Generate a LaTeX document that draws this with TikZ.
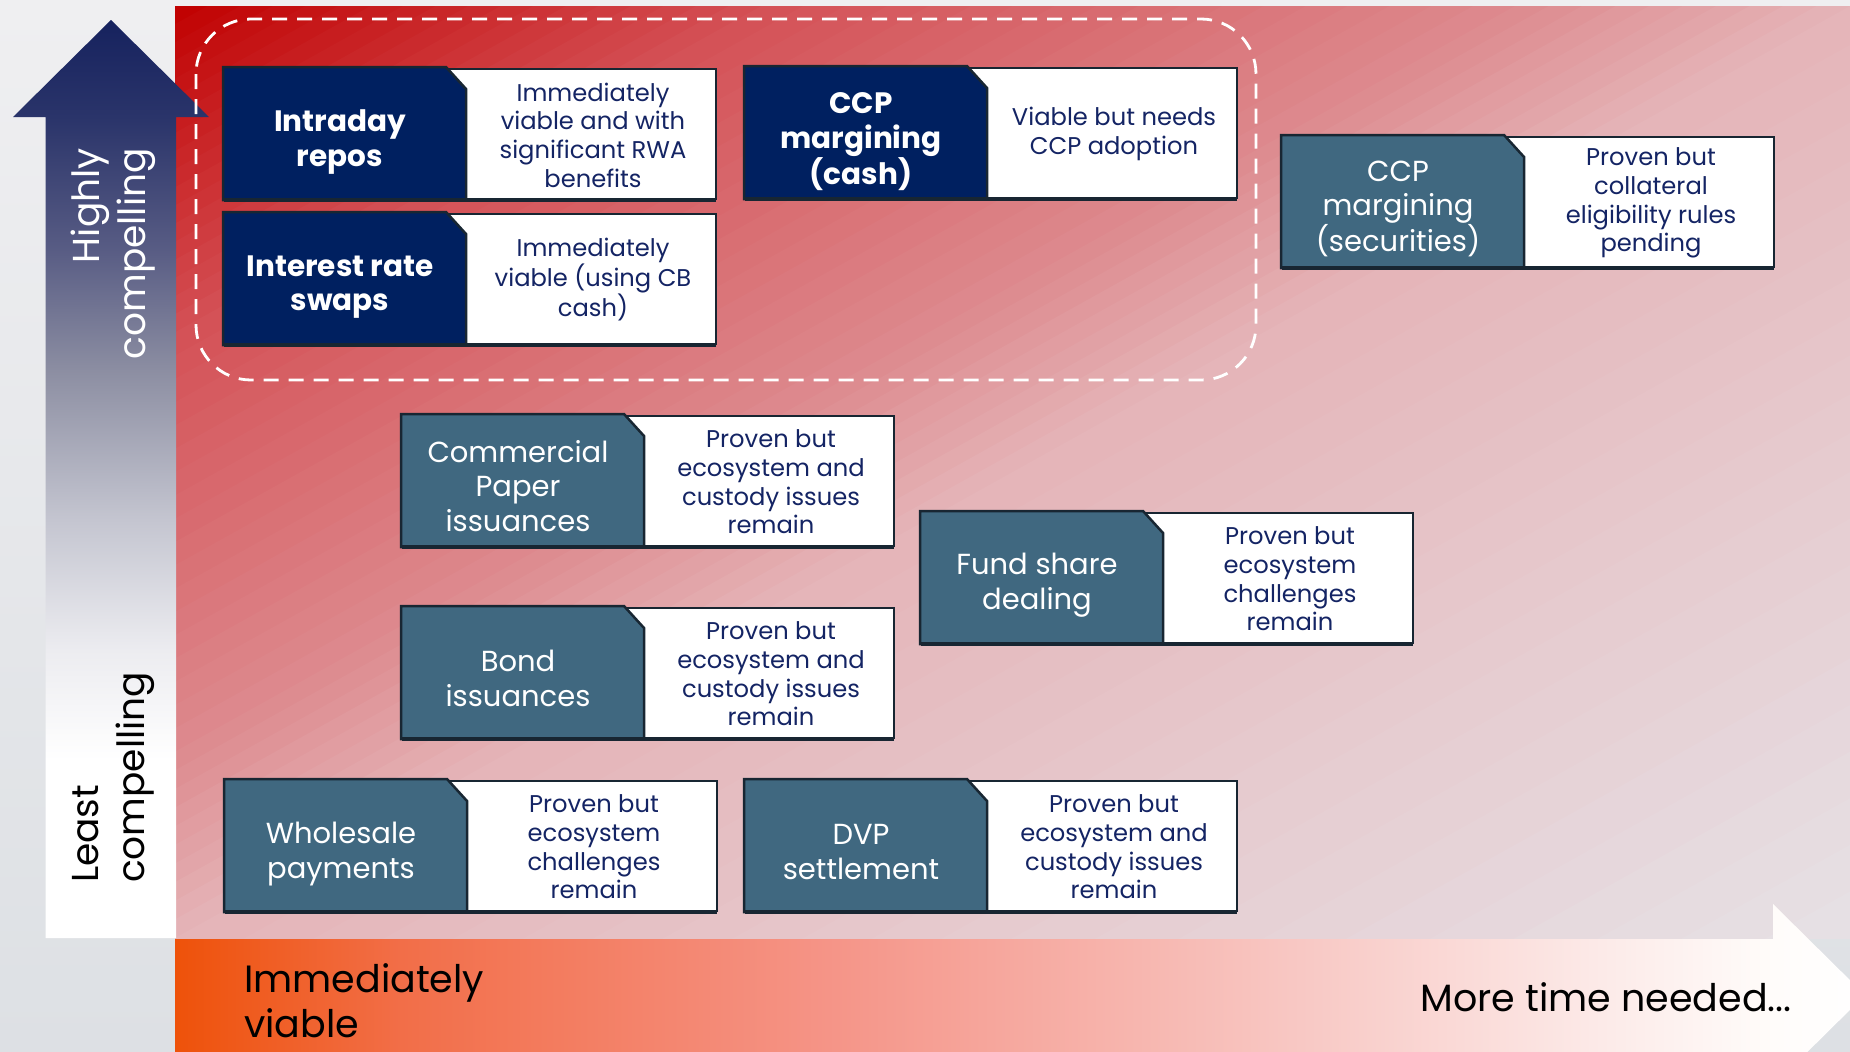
\documentclass[tikz,border=0pt]{standalone}
\usepackage{fontspec}
\setmainfont{Poppins}
\definecolor{navybox}{RGB}{0,32,96}
\definecolor{tealbox}{RGB}{64,104,128}
\definecolor{edge}{RGB}{24,38,50}
\definecolor{desctext}{RGB}{20,36,100}
\definecolor{bgtop}{RGB}{239,239,241}
\definecolor{bgbot}{RGB}{221,224,228}
% red background stops
\definecolor{rs0}{RGB}{192,0,0}
\definecolor{rs1}{RGB}{212,80,85}
\definecolor{rs2}{RGB}{221,138,142}
\definecolor{rs3}{RGB}{229,180,184}
\definecolor{rs4}{RGB}{230,204,208}
\definecolor{rs5}{RGB}{230,225,229}
% band stops
\definecolor{bandA}{RGB}{238,82,10}
\definecolor{bandB}{RGB}{242,110,72}
\definecolor{bandC}{RGB}{245,148,135}
\definecolor{bandD}{RGB}{248,200,196}
\definecolor{bandE}{RGB}{252,234,232}
\definecolor{bandF}{RGB}{255,252,250}
% vertical arrow stops
\definecolor{arA}{RGB}{236,236,240}
\definecolor{arB}{RGB}{196,197,208}
\definecolor{arC}{RGB}{140,142,162}
\definecolor{arD}{RGB}{88,92,132}
\definecolor{arE}{RGB}{42,52,106}
\definecolor{arF}{RGB}{22,34,94}
\pgfdeclarehorizontalshading{bandshade}{100bp}{color(0bp)=(bandA); color(25bp)=(bandA); color(31.7bp)=(bandB); color(44.3bp)=(bandC); color(58.3bp)=(bandD); color(67.2bp)=(bandE); color(72.3bp)=(bandF); color(75bp)=(white); color(100bp)=(white)}
\pgfdeclareverticalshading{arrowshade}{100bp}{color(0bp)=(white); color(25bp)=(white); color(34.7bp)=(white); color(40.7bp)=(arA); color(47.8bp)=(arB); color(55.9bp)=(arC); color(62.5bp)=(arD); color(69.7bp)=(arE); color(75bp)=(arF); color(100bp)=(arF)}
\newcommand{\gradseg}[5]{%
  \foreach \i in {1,...,#5}{%
    \pgfmathsetmacro{\gta}{#1+(#2-#1)*(\i-1)/#5}%
    \pgfmathsetmacro{\gtb}{#1+(#2-#1)*\i/#5+0.006}%
    \pgfmathsetmacro{\gpc}{100*(\i-0.5)/#5}%
    \fill[#4!\gpc!#3] ({175+(\gta+1)*1675},-926) -- ({175+(\gtb+1)*1675},-926) -- (-1500,{6+(\gtb+1)*932}) -- (-1500,{6+(\gta+1)*932}) -- cycle;%
  }%
}
% name, x, y, shape style, title style, title, description, title y offset
\newcommand{\entry}[8]{%
  \path[descbox] ({#2+223},{#3+2}) rectangle ({#2+493},{#3+132});
  \path[#4] (#2,#3) -- ({#2+223},#3) -- ({#2+243},{#3+22}) -- ({#2+243},{#3+133}) -- (#2,{#3+133}) -- cycle;
  \draw[shadowedge] ({#2+1},{#3+133}) -- ({#2+493},{#3+133});
  \node[#5] (#1t) at ({#2+117},{#3+#8}) {#6};
  \node[desc] (#1d) at ({#2+370},{#3+68}) {#7};
}
\begin{document}
\begin{tikzpicture}[x=1pt,y=-1pt,
  navyshape/.style={fill=navybox, draw=edge, line width=2.5pt},
  tealshape/.style={fill=tealbox, draw=edge, line width=2.5pt},
  descbox/.style={fill=white, draw=edge, line width=2.5pt},
  shadowedge/.style={draw=edge, line width=4pt},
  navytitle/.style={text=white, font=\fontsize{29.5}{34.8}\selectfont\bfseries, align=center, inner sep=0pt},
  tealtitle/.style={text=white, font=\fontsize{29}{34.8}\selectfont, align=center, inner sep=0pt},
  desc/.style={text=desctext, font=\fontsize{24.2}{28.7}\selectfont, align=center, inner sep=0pt},
  axislabel/.style={font=\fontsize{37.5}{46}\selectfont, inner sep=0pt},
  bandlabel/.style={text=black, font=\fontsize{38}{45}\selectfont, inner sep=0pt},
  dashedframe/.style={draw=white, line width=2.8pt, dash pattern=on 15pt off 10pt, rounded corners=55pt}
]
\useasboundingbox (0,0) rectangle (1850,1052);
\clip (0,0) rectangle (1850,1052);
% light background
\shade[top color=bgtop, bottom color=bgbot] (0,0) rectangle (1850,1052);
% red area
\begin{scope}
  \clip (175,6) rectangle (1850,938);
  \gradseg{0}{0.35}{rs0}{rs1}{18}
  \gradseg{0.35}{0.8}{rs1}{rs2}{18}
  \gradseg{0.8}{1.0}{rs2}{rs3}{10}
  \gradseg{1.0}{1.5}{rs3}{rs4}{12}
  \gradseg{1.5}{2.0}{rs4}{rs5}{10}
\end{scope}
% bottom band arrow
\shade[shading=bandshade] (175,939) -- (1773,939) -- (1773,904) -- (1865,995) -- (1773,1086) -- (1773,1060) -- (175,1060) -- cycle;
% vertical arrow
\shade[shading=arrowshade] (45.5,938) -- (45.5,117) -- (13,117) -- (111,20) -- (209,117) -- (176,117) -- (176,938) -- cycle;
% dashed group frame
\draw[dashedframe] (196,19) rectangle (1256,380);
% entries
\entry{ir}{223}{67}{navyshape}{navytitle}{Intraday\\repos}{Immediately\\viable and with\\significant RWA\\benefits}{75}
\entry{irs}{223}{212}{navyshape}{navytitle}{Interest rate\\swaps}{Immediately\\viable (using CB\\cash)}{75}
\entry{ccpc}{744}{66}{navyshape}{navytitle}{CCP\\margining\\(cash)}{Viable but needs\\CCP adoption}{76}
\entry{ccps}{1281}{135}{tealshape}{tealtitle}{CCP\\margining\\(securities)}{Proven but\\collateral\\eligibility rules\\pending}{74}
\entry{cp}{401}{414}{tealshape}{tealtitle}{Commercial\\Paper\\issuances}{Proven but\\ecosystem and\\custody issues\\remain}{72}
\entry{bond}{401}{606}{tealshape}{tealtitle}{Bond\\issuances}{Proven but\\ecosystem and\\custody issues\\remain}{72}
\entry{fund}{920}{511}{tealshape}{tealtitle}{Fund share\\dealing}{Proven but\\ecosystem\\challenges\\remain}{74}
\entry{wp}{224}{779}{tealshape}{tealtitle}{Wholesale\\payments}{Proven but\\ecosystem\\challenges\\remain}{75}
\entry{dvp}{744}{779}{tealshape}{tealtitle}{DVP\\settlement}{Proven but\\ecosystem and\\custody issues\\remain}{73}
% axis labels
\node[axislabel, text=white, rotate=90, anchor=east, align=right] (hc) at (113,148) {Highly\\compelling};
\node[axislabel, text=black, rotate=90, anchor=west, align=left] (lc) at (113,883) {Least\\compelling};
\node[bandlabel, anchor=west, align=left] (iv) at (244,1001) {Immediately\\viable};
\node[bandlabel, anchor=east] (mt) at (1792,997) {More time needed...};
\end{tikzpicture}
\end{document}
